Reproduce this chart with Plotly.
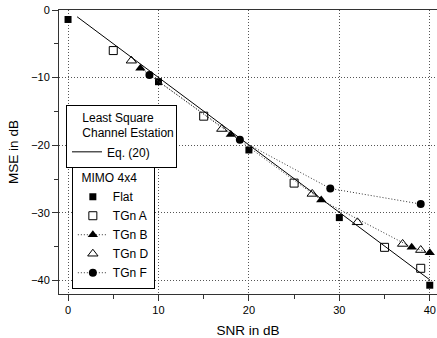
import plotly.graph_objects as go

# Data
eq20_x = [1, 40]
eq20_y = [-1.0, -39.9]

flat_x = [0, 10, 20, 30, 40]
flat_y = [-1.4, -10.6, -20.7, -30.7, -40.7]

tgna_x = [5, 15, 25, 35, 39]
tgna_y = [-6.0, -15.7, -25.6, -35.1, -38.2]

tgnb_x = [8, 18, 28, 38, 40]
tgnb_y = [-8.6, -18.4, -28.1, -35.1, -35.9]

tgnd_x = [7, 17, 27, 32, 37, 39]
tgnd_y = [-7.5, -17.6, -27.2, -31.4, -34.6, -35.5]

tgnf_x = [9, 19, 29, 39]
tgnf_y = [-9.6, -19.2, -26.4, -28.7]

x_ticks = [0, 10, 20, 30, 40]
y_ticks = [0, -10, -20, -30, -40]

FONT = "Liberation Sans, Arial, Helvetica, sans-serif"

fig = go.Figure()

fig.add_trace(go.Scatter(x=eq20_x, y=eq20_y, mode="lines", name="Eq. (20)",
                         line=dict(color="black", width=1), legend="legend2"))

fig.add_trace(go.Scatter(x=flat_x, y=flat_y, mode="markers", name="Flat",
                         marker=dict(symbol="square", size=7, color="black"),
                         legend="legend"))
fig.add_trace(go.Scatter(x=tgna_x, y=tgna_y, mode="markers", name="TGn A",
                         marker=dict(symbol="square-open", size=8, color="black",
                                     line=dict(width=1)),
                         legend="legend"))
fig.add_trace(go.Scatter(x=tgnb_x, y=tgnb_y, mode="lines+markers", name="TGn B",
                         line=dict(color="#333", width=1, dash="1px,2px"),
                         marker=dict(symbol="triangle-up", size=9, color="black"),
                         legend="legend"))
fig.add_trace(go.Scatter(x=tgnd_x, y=tgnd_y, mode="markers", name="TGn D",
                         marker=dict(symbol="triangle-up-open", size=9, color="black",
                                     line=dict(width=1)),
                         legend="legend"))
fig.add_trace(go.Scatter(x=tgnf_x, y=tgnf_y, mode="lines+markers", name="TGn F",
                         line=dict(color="#333", width=1, dash="1px,2px"),
                         marker=dict(symbol="circle", size=8, color="black"),
                         legend="legend"))

axis_common = dict(
    showline=True, linecolor="#333", linewidth=1,
    showgrid=True, gridcolor="#555", griddash="1px,2px", gridwidth=1,
    ticks="outside", ticklen=6, tickcolor="#333", tickwidth=1,
    tickfont=dict(family=FONT, size=11, color="black"),
    zeroline=False, automargin=False,
    minor=dict(ticks="outside", ticklen=4, tickcolor="#333", dtick=5, showgrid=False),
)

fig.update_layout(
    width=437, height=338,
    margin=dict(l=59, r=0, t=10, b=44),
    paper_bgcolor="white", plot_bgcolor="white",
    font=dict(family=FONT, size=12, color="black"),
    xaxis=dict(range=[-1, 40.8], tickvals=x_ticks, mirror=True,
               title=dict(text="SNR in dB", font=dict(family=FONT, size=13.5), standoff=10),
               **axis_common),
    yaxis=dict(range=[-42, 0], tickvals=y_ticks, mirror=False,
               title=dict(text="MSE in dB", font=dict(family=FONT, size=13.5), standoff=9),
               **axis_common),
    legend=dict(x=0.034, y=0.452, xanchor="left", yanchor="top",
                bgcolor="white", bordercolor="black", borderwidth=1,
                title=dict(text="&nbsp;&nbsp;MIMO 4x4", font=dict(family=FONT, size=12)),
                font=dict(family=FONT, size=12), itemwidth=30, tracegroupgap=0),
    legend2=dict(x=0.0185, y=0.665, xanchor="left", yanchor="top",
                 bgcolor="white", bordercolor="black", borderwidth=1,
                 title=dict(text="&nbsp;&nbsp;&nbsp;&nbsp;Least Square<br>&nbsp;&nbsp;&nbsp;&nbsp;Channel Estation",
                            font=dict(family=FONT, size=12)),
                 font=dict(family=FONT, size=12), itemwidth=30),
    showlegend=True,
)

fig.write_html("out.html")
